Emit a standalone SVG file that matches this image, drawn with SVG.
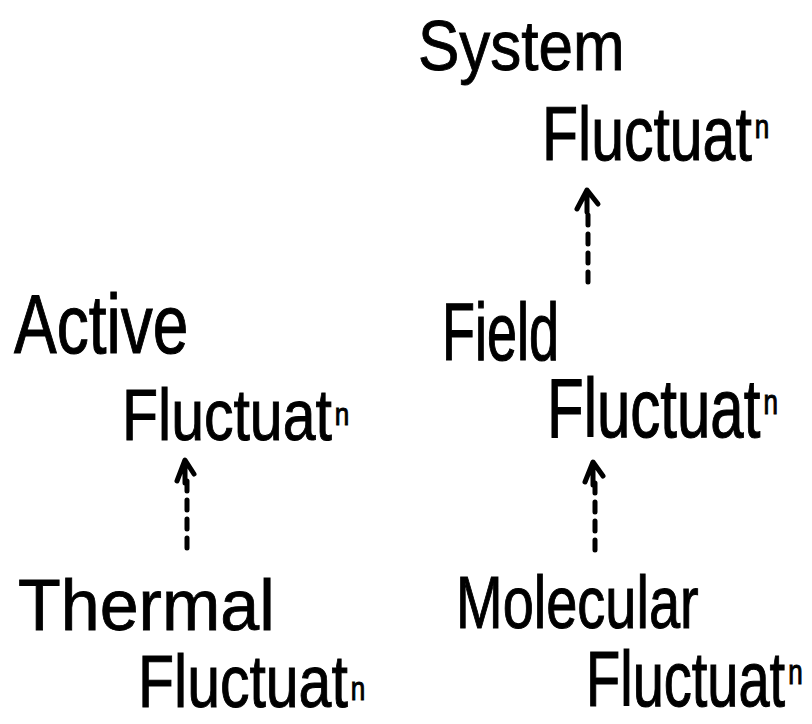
<svg xmlns="http://www.w3.org/2000/svg" width="812" height="724" viewBox="0 0 812 724">
<style>
.t{font-family:"Liberation Sans","DejaVu Sans",sans-serif;fill:#000;stroke:#000;stroke-width:0.8}
.s{font-size:26px}
.c{stroke:#000;stroke-width:5;stroke-linecap:round;stroke-linejoin:round;fill:none}
.d{stroke-dasharray:10 9}
</style>
<rect width="812" height="724" fill="#fff"/>
<g id="connectors">
<g id="e1"><path class="c d" d="M588 282 V208"/><path class="c" d="M577 209 L587 190 L598 204 M587 191 V212"/></g>
<g id="e2"><path class="c d" d="M187 548 V480"/><path class="c" d="M177 481 L185 460 L194 474 M185 461 V483"/></g>
<g id="e3"><path class="c d" d="M595 550 V482"/><path class="c" d="M585 482 L593 462 L603 476 M593 463 V485"/></g>
</g>
<g id="system">
<text class="t" transform="translate(418,70) scale(1,1.13)" font-size="62">System</text>
<text class="t" transform="translate(542,160) scale(1,1.3)" font-size="59">Fluctuat<tspan class="s" dx="3" dy="-17">n</tspan></text>
</g>
<g id="active">
<text class="t" transform="translate(14,353) scale(1,1.3)" font-size="64">Active</text>
<text class="t" transform="translate(122,440) scale(1,1.23)" font-size="59">Fluctuat<tspan class="s" dx="3" dy="-12">n</tspan></text>
</g>
<g id="field">
<text class="t" transform="translate(442,360) scale(1,1.5)" font-size="54">Field</text>
<text class="t" transform="translate(547,437) scale(1,1.38)" font-size="60">Fluctuat<tspan class="s" dx="3" dy="-17">n</tspan></text>
</g>
<g id="thermal">
<text class="t" transform="translate(18,630) scale(1,1.03)" font-size="70">Thermal</text>
<text class="t" transform="translate(138,707) scale(1,1.25)" font-size="59">Fluctuat<tspan class="s" dx="3" dy="-6">n</tspan></text>
</g>
<g id="molecular">
<text class="t" transform="translate(456,628) scale(1,1.32)" font-size="56">Molecular</text>
<text class="t" transform="translate(586,706) scale(1,1.38)" font-size="56">Fluctuat<tspan class="s" dx="3" dy="-16">n</tspan></text>
</g>
</svg>
